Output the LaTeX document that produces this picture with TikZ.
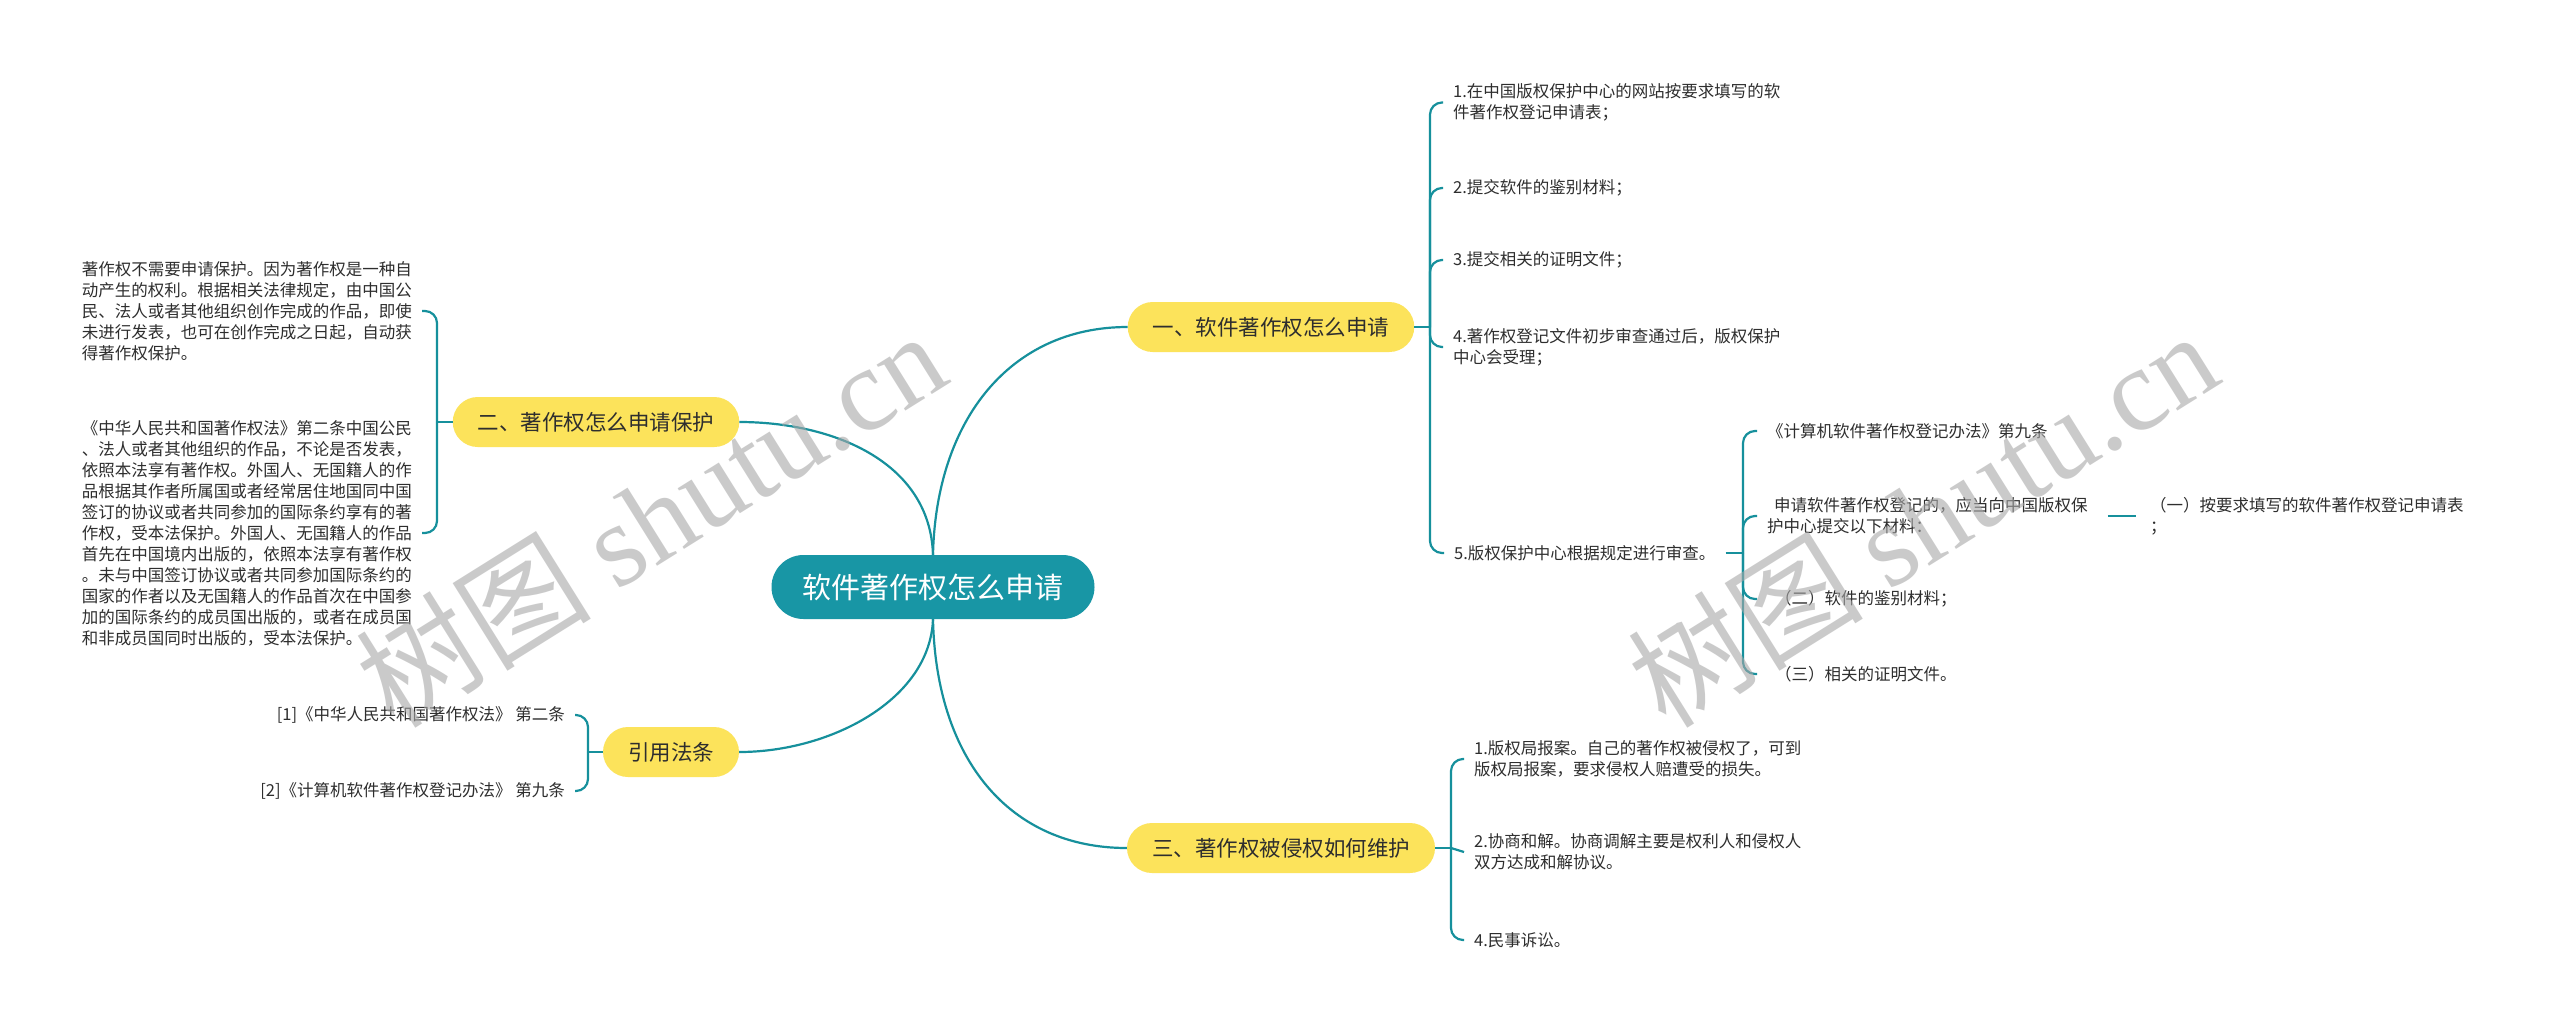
\documentclass[tikz,border=0pt]{standalone}
\usepackage{fontspec}
\newfontfamily\cjk{Noto Sans CJK SC}
\newfontfamily\wmserif{Liberation Serif}
\definecolor{rootteal}{HTML}{1896A5}
\definecolor{lineteal}{HTML}{16909C}
\definecolor{pillyellow}{HTML}{FCE35B}
\definecolor{txtgray}{HTML}{2E2E2E}
\definecolor{wmgray}{HTML}{A8A8A8}
\begin{document}
\begin{tikzpicture}[x=1pt,y=-1pt,
  rootnode/.style={fill=rootteal, text=white, rounded corners=32pt, minimum height=64pt, inner xsep=31pt, inner ysep=0pt, font=\cjk\fontsize{29pt}{34pt}\selectfont},
  pill/.style={fill=pillyellow, text=txtgray, rounded corners=25pt, minimum height=50pt, inner xsep=25pt, inner ysep=0pt, font=\cjk\fontsize{21.5pt}{26pt}\selectfont},
  leaf/.style={text=txtgray, align=left, inner xsep=10pt, inner ysep=2pt, font=\cjk\fontsize{16.5pt}{21pt}\selectfont},
  conn/.style={draw=lineteal, line width=2.2pt},
  brace/.style={conn, rounded corners=12pt},
  watermark/.style={text=wmgray, opacity=0.6, rotate=32, inner sep=0pt},
]
\useasboundingbox[fill=white] (0,0) rectangle (2560,1029);

% main nodes
\node[rootnode] (root) at (933,587) {软件著作权怎么申请};
\node[pill] (b1) at (1271,327) {一、软件著作权怎么申请};
\node[pill] (b2) at (596,422) {二、著作权怎么申请保护};
\node[pill] (b3) at (671,752) {引用法条};
\node[pill] (b4) at (1281,848) {三、著作权被侵权如何维护};

% root connectors
\draw[conn] (root.north) .. controls (936,420) and (1010,327) .. (b1.west);
\draw[conn] (root.north) .. controls (930,460) and (830,422) .. (b2.east);
\draw[conn] (root.south) .. controls (930,700) and (830,752) .. (b3.east);
\draw[conn] (root.south) .. controls (936,760) and (1010,848) .. (b4.west);

% branch 1 children
\node[leaf, anchor=west] (i1) at (1443,102.5) {1.在中国版权保护中心的网站按要求填写的软\\件著作权登记申请表；};
\node[leaf, anchor=west] (i2) at (1443,188) {2.提交软件的鉴别材料；};
\node[leaf, anchor=west] (i3) at (1443,260) {3.提交相关的证明文件；};
\node[leaf, anchor=west] (i4) at (1443,347) {4.著作权登记文件初步审查通过后，版权保护\\中心会受理；};
\node[leaf, anchor=west] (i5) at (1444,553) {5.版权保护中心根据规定进行审查。};
\coordinate (b1j) at (1430,327);
\draw[conn] (b1.east) -- (b1j);
\foreach \c in {i1,i2,i3,i4,i5} \draw[brace] (b1j) -- (b1j |- \c.west) -- (\c.west);

% item 5 children
\node[leaf, anchor=west] (s1) at (1757,431) {《计算机软件著作权登记办法》第九条};
\node[leaf, anchor=west] (s2) at (1757,516) {\kern7pt申请软件著作权登记的，应当向中国版权保\\护中心提交以下材料：};
\node[leaf, anchor=west] (s3) at (1757,599) {\kern8pt（二）软件的鉴别材料；};
\node[leaf, anchor=west] (s4) at (1757,674) {\kern8pt（三）相关的证明文件。};
\coordinate (i5j) at (1743,553);
\draw[conn] (i5.east) -- (i5j);
\foreach \c in {s1,s2,s3,s4} \draw[brace] (i5j) -- (i5j |- \c.west) -- (\c.west);

\node[leaf, anchor=west] (y1) at (2140,516) {（一）按要求填写的软件著作权登记申请表\\；};
\draw[conn, shorten <=10pt, shorten >=4pt] (s2.east) -- (y1.west);

% branch 2 children
\node[leaf, anchor=east] (l1) at (422,311) {著作权不需要申请保护。因为著作权是一种自\\动产生的权利。根据相关法律规定，由中国公\\民、法人或者其他组织创作完成的作品，即使\\未进行发表，也可在创作完成之日起，自动获\\得著作权保护。};
\node[leaf, anchor=east] (l2) at (422,533) {《中华人民共和国著作权法》第二条中国公民\\、法人或者其他组织的作品，不论是否发表，\\依照本法享有著作权。外国人、无国籍人的作\\品根据其作者所属国或者经常居住地国同中国\\签订的协议或者共同参加的国际条约享有的著\\作权，受本法保护。外国人、无国籍人的作品\\首先在中国境内出版的，依照本法享有著作权\\。未与中国签订协议或者共同参加国际条约的\\国家的作者以及无国籍人的作品首次在中国参\\加的国际条约的成员国出版的，或者在成员国\\和非成员国同时出版的，受本法保护。};
\coordinate (b2j) at (437,422);
\draw[conn] (b2.west) -- (b2j);
\foreach \c in {l1,l2} \draw[brace] (b2j) -- (b2j |- \c.east) -- (\c.east);

% branch 3 children
\node[leaf, anchor=east] (r1) at (575,715) {[1]《中华人民共和国著作权法》 第二条};
\node[leaf, anchor=east] (r2) at (575,791) {[2]《计算机软件著作权登记办法》 第九条};
\coordinate (b3j) at (588,752);
\draw[conn] (b3.west) -- (b3j);
\foreach \c in {r1,r2} \draw[brace] (b3j) -- (b3j |- \c.east) -- (\c.east);

% branch 4 children
\node[leaf, anchor=west] (t1) at (1464,759) {1.版权局报案。自己的著作权被侵权了，可到\\版权局报案，要求侵权人赔遭受的损失。};
\node[leaf, anchor=west] (t2) at (1464,852) {2.协商和解。协商调解主要是权利人和侵权人\\双方达成和解协议。};
\node[leaf, anchor=west] (t3) at (1464,940) {4.民事诉讼。};
\coordinate (b4j) at (1451,848);
\draw[conn] (b4.east) -- (b4j);
\draw[brace] (b4j) -- (b4j |- t1.west) -- (t1.west);
\draw[conn] (b4j) -- (t2.west);
\draw[brace] (b4j) -- (b4j |- t3.west) -- (t3.west);

% watermarks
\node[watermark] (wm1) at (650,518) {\cjk\fontsize{118pt}{122pt}\selectfont 树图 {\wmserif shutu.cn}};
\node[watermark] (wm2) at (1922,518) {\cjk\fontsize{118pt}{122pt}\selectfont 树图 {\wmserif shutu.cn}};
\end{tikzpicture}
\end{document}
